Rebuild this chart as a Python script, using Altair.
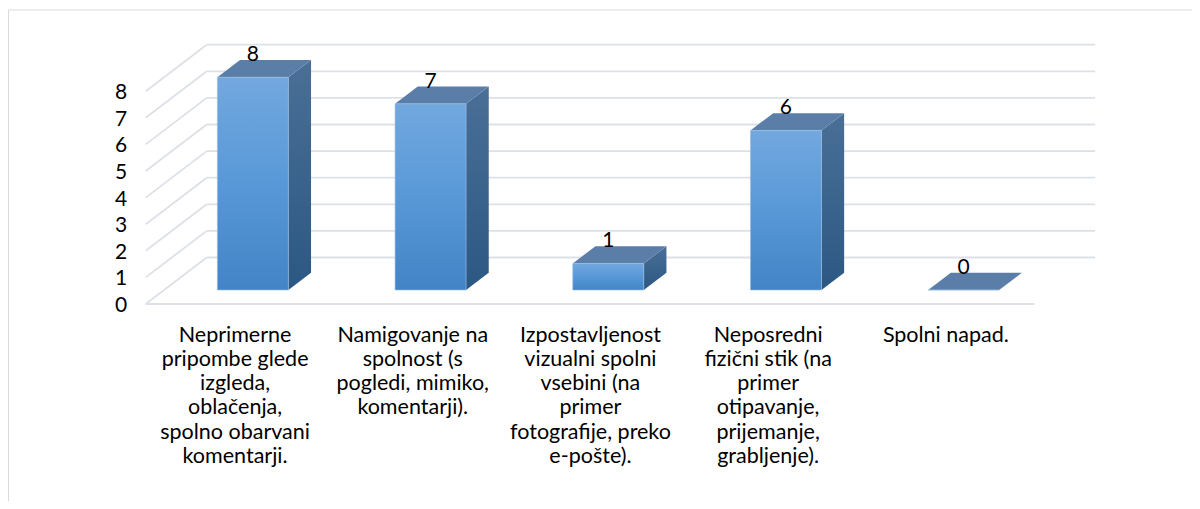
import json
import altair as alt
import pandas as pd

# ---------------- data ----------------
category_lines = [
    ["Neprimerne", "pripombe glede", "izgleda,", "oblačenja,", "spolno obarvani", "komentarji."],
    ["Namigovanje na", "spolnost (s", "pogledi, mimiko,", "komentarji)."],
    ["Izpostavljenost", "vizualni spolni", "vsebini (na", "primer", "fotografije, preko", "e-pošte)."],
    ["Neposredni", "fizični stik (na", "primer", "otipavanje,", "prijemanje,", "grabljenje)."],
    ["Spolni napad."],
]
values = [8, 7, 1, 6, 0]
y_ticks = [0, 1, 2, 3, 4, 5, 6, 7, 8]

# ---------------- geometry of the pseudo-3D box ----------------
CAT_PX = 177.7        # pixels per category (front plane)
UNIT_PX = 26.6        # pixels per value unit
DX = 61 / CAT_PX      # depth vector in x units
DY = 46.5 / UNIT_PX   # depth vector in y units
F0, F1 = 0.30, 0.672  # bar front / back depth fractions
BW = 71 / CAT_PX      # bar width in category units
N = len(values)
X_MAX = N + DX
Y_MAX = max(y_ticks) + DY
W = X_MAX * CAT_PX
H = Y_MAX * UNIT_PX

PAD_L, PAD_T = 137.7, 36.7
PAD_R = 1184 - PAD_L - W
PAD_B = 493 - PAD_T - H

FONT = "Lato"
GRID = "#dde1e7"

xs = alt.Scale(domain=[0, X_MAX], nice=False, zero=False)
ys = alt.Scale(domain=[0, Y_MAX], nice=False, zero=False)

label_expr = json.dumps(category_lines, ensure_ascii=False) + "[round(datum.value - 0.5)]"

XAX = alt.Axis(
    values=[i + 0.5 for i in range(N)], labelExpr=label_expr,
    grid=False, domain=False, ticks=False, title=None,
    labelFont=FONT, labelFontSize=21.5, labelColor="#000000",
    labelLineHeight=24.3, labelPadding=20, labelBaseline="top",
    labelOverlap=False, labelFlush=False, labelAlign="center",
)
YAX = alt.Axis(
    values=y_ticks, grid=False, domain=False, ticks=False, title=None,
    labelFont=FONT, labelFontSize=21, labelColor="#000000",
    labelPadding=19, labelBaseline="middle", labelOffset=1.5,
)

# ---------------- derived tables ----------------
back = pd.DataFrame({"x": DX, "x2": N + DX, "y": [t + DY for t in y_ticks]})
diag = pd.DataFrame({"x": 0.0, "x2": DX, "y": [float(t) for t in y_ticks],
                     "y2": [t + DY for t in y_ticks]})
floor = pd.DataFrame({"x": [0.0], "x2": [float(N)], "y": [0.0]})

front_rows, side_rows, top_rows, lab_rows = [], [], [], []
for i, v in enumerate(values):
    c = i + 0.5 + F0 * DX
    xl, xr = c - BW / 2, c + BW / 2
    sx = (F1 - F0) * DX
    front_rows.append({"cat": i, "x": xl, "x2": xr, "y": F0 * DY, "y2": v + F0 * DY})
    side_rows += [
        {"cat": i, "x": xr, "y": F0 * DY, "y2": v + F0 * DY},
        {"cat": i, "x": xr + sx, "y": F1 * DY, "y2": v + F1 * DY},
    ]
    top_rows += [
        {"cat": i, "y": v + F0 * DY, "x": xl, "x2": xr},
        {"cat": i, "y": v + F1 * DY, "x": xl + sx, "x2": xr + sx},
    ]
    lab_rows.append({"x": c, "y": v + F1 * DY, "t": str(v)})

front = pd.DataFrame(front_rows)
side = pd.DataFrame([r for r in side_rows if values[r["cat"]] > 0])
top = pd.DataFrame(top_rows)
labs = pd.DataFrame(lab_rows)

# ---------------- layers ----------------
frame = alt.Chart(pd.DataFrame({"a": [0]})).mark_rect(
    fill=None, stroke="#d9d9d9", strokeWidth=1
).encode(
    x=alt.value(8.5 - (PAD_L + 8)), x2=alt.value(W + 400),
    y=alt.value(10 - (PAD_T + 8)), y2=alt.value(H + 400),
)

def X(f="x"):
    return alt.X(f + ":Q", scale=xs, axis=XAX)

def Y(f="y"):
    return alt.Y(f + ":Q", scale=ys, axis=YAX)

back_l = alt.Chart(back).mark_rule(color=GRID, strokeWidth=1.8).encode(
    x=X(), x2="x2:Q", y=Y(),
)
diag_l = alt.Chart(diag).mark_rule(color=GRID, strokeWidth=1.8).encode(
    x=X(), x2="x2:Q", y=Y(), y2="y2:Q",
)
floor_l = alt.Chart(floor).mark_rule(color=GRID, strokeWidth=1.8).encode(
    x=X(), x2="x2:Q", y=Y(),
)

side_grad = alt.Gradient(
    gradient="linear", x1=0, y1=0, x2=0, y2=1,
    stops=[alt.GradientStop(color="#4a6f97", offset=0),
           alt.GradientStop(color="#2b5883", offset=1)],
)
front_grad = alt.Gradient(
    gradient="linear", x1=0, y1=0, x2=0, y2=1,
    stops=[alt.GradientStop(color="#72a8de", offset=0),
           alt.GradientStop(color="#5b9ad9", offset=0.45),
           alt.GradientStop(color="#4284c6", offset=1)],
)

side_l = alt.Chart(side).mark_area(color=side_grad, opacity=1).encode(
    x=X(), y=Y(), y2="y2:Q", detail="cat:N",
)
top_l = alt.Chart(top).mark_area(orient="horizontal", color="#5a7ea8", opacity=1).encode(
    y=Y(), x=X(), x2="x2:Q", detail="cat:N",
)
front_l = alt.Chart(front).mark_rect(color=front_grad, stroke="#9cbde3", strokeWidth=0.6).encode(
    x=X(), x2="x2:Q", y=Y(), y2="y2:Q",
)
text_l = alt.Chart(labs).mark_text(
    font=FONT, fontSize=21, color="#000000", baseline="alphabetic", align="center", dy=1
).encode(
    x=X(), y=Y(), text="t:N",
)

chart = alt.layer(
    frame, back_l, diag_l, floor_l, side_l, top_l, front_l, text_l
).properties(
    width=W, height=H,
    autosize=alt.AutoSizeParams(type="none"),
    padding={"left": PAD_L, "top": PAD_T, "right": PAD_R, "bottom": PAD_B},
    background="white",
).configure_view(stroke=None)

chart.save("out.html", embed_options={"renderer": "svg", "actions": False})
